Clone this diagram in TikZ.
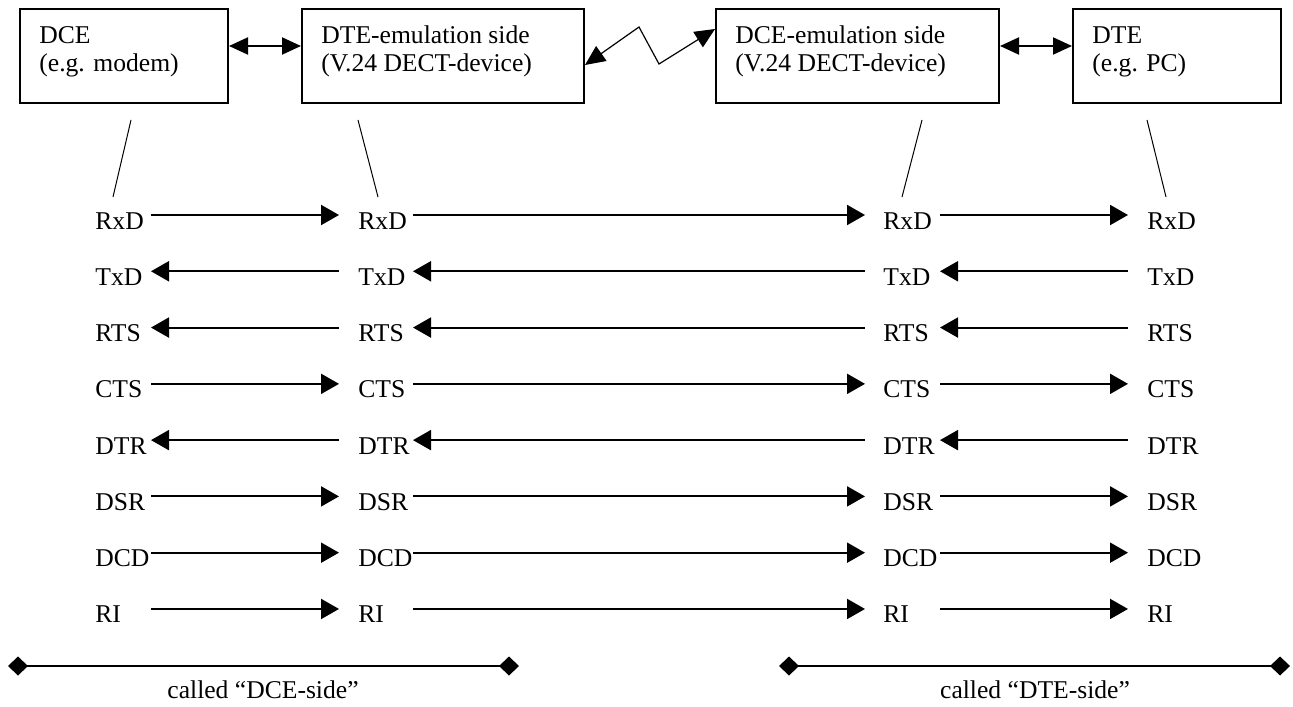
\documentclass[tikz,border=0pt]{standalone}
\usepackage{fontspec}
\setmainfont{Liberation Serif}
\usetikzlibrary{arrows.meta}
\begin{document}
\begin{tikzpicture}[x=0.5pt,y=-0.5pt,
  font=\fontsize{12.8}{14}\selectfont,
  box/.style={draw, line width=1pt, minimum height=47pt, inner sep=0pt, anchor=north west},
  txt/.style={anchor=base west, inner sep=0pt},
  lab/.style={anchor=base west, inner sep=0pt},
  captxt/.style={anchor=base, inner sep=0pt},
  sig/.style={-{Triangle[length=9pt,width=10pt]}, line width=1pt},
  dbl/.style={{Triangle[length=9.5pt,width=8.5pt]}-{Triangle[length=9.5pt,width=8.5pt]}, line width=1pt},
  zig/.style={{Triangle[length=10pt,width=9pt]}-{Triangle[length=10pt,width=9pt]}, line width=0.6pt},
  thin/.style={line width=0.5pt},
  span/.style={{Diamond[length=10pt,width=9.5pt]}-{Diamond[length=10pt,width=9.5pt]}, line width=1pt}]
\useasboundingbox (0,0) rectangle (1293,706);

% boxes
\node[box, minimum width=104pt]   (dce)   at (19,8)   {};
\node[box, minimum width=141pt]   (dteem) at (301,8)  {};
\node[box, minimum width=141.5pt] (dceem) at (715,8)  {};
\node[box, minimum width=104pt]   (dte)   at (1072,8) {};

\node[txt] (dcet1)   at (39,44)   {DCE};
\node[txt] (dcet2)   at (39,72)   {(e.g. modem)};
\node[txt] (dteemt1) at (321,44)  {DTE-emulation side};
\node[txt] (dteemt2) at (321,72)  {(V.24 DECT-device)};
\node[txt] (dceemt1) at (735,44)  {DCE-emulation side};
\node[txt] (dceemt2) at (735,72)  {(V.24 DECT-device)};
\node[txt] (dtet1)   at (1092,44) {DTE};
\node[txt] (dtet2)   at (1092,72) {(e.g. PC)};

% top connectors
\draw[dbl] ([yshift=5pt]dce.east) -- ([yshift=5pt]dteem.west);
\draw[dbl] ([yshift=5pt]dceem.east) -- ([yshift=5pt]dte.west);
\coordinate (z1) at (639,27);
\coordinate (z2) at (659,64);
\draw[zig] ([yshift=-4.5pt]dteem.east) -- (z1) -- (z2) -- ([yshift=13.5pt]dceem.west);

% slanted lines
\coordinate (s1a) at (131,120); \coordinate (s1b) at (113,197);
\coordinate (s2a) at (358,120); \coordinate (s2b) at (378,197);
\coordinate (s3a) at (922,120); \coordinate (s3b) at (902,197);
\coordinate (s4a) at (1147,120); \coordinate (s4b) at (1166,197);
\draw[thin] (s1a) -- (s1b);
\draw[thin] (s2a) -- (s2b);
\draw[thin] (s3a) -- (s3b);
\draw[thin] (s4a) -- (s4b);

% signal rows
\foreach \n/\d [count=\i from 0] in {RxD/1,TxD/0,RTS/0,CTS/1,DTR/0,DSR/1,DCD/1,RI/1}{
  \pgfmathsetmacro\yy{215+56.28*\i}
  \pgfmathsetmacro\yb{\yy+14}
  \node[lab] (La\i) at (95,\yb)   {\n};
  \node[lab] (Lb\i) at (358,\yb)  {\n};
  \node[lab] (Lc\i) at (883,\yb)  {\n};
  \node[lab] (Ld\i) at (1147,\yb) {\n};
  \coordinate (p1\i) at (151,\yy);
  \coordinate (p2\i) at (339,\yy);
  \coordinate (p3\i) at (413,\yy);
  \coordinate (p4\i) at (865,\yy);
  \coordinate (p5\i) at (940,\yy);
  \coordinate (p6\i) at (1128,\yy);
  \ifnum\d=1
    \draw[sig] (p1\i) -- (p2\i);
    \draw[sig] (p3\i) -- (p4\i);
    \draw[sig] (p5\i) -- (p6\i);
  \else
    \draw[sig] (p2\i) -- (p1\i);
    \draw[sig] (p4\i) -- (p3\i);
    \draw[sig] (p6\i) -- (p5\i);
  \fi
}

% bottom spans
\coordinate (b1a) at (8,666);   \coordinate (b1b) at (519,666);
\coordinate (b2a) at (779,666); \coordinate (b2b) at (1290,666);
\draw[span] (b1a) -- (b1b);
\draw[span] (b2a) -- (b2b);
\node[captxt] (c1) at (263,698)  {called “DCE-side”};
\node[captxt] (c2) at (1035,698) {called “DTE-side”};
\end{tikzpicture}
\end{document}
